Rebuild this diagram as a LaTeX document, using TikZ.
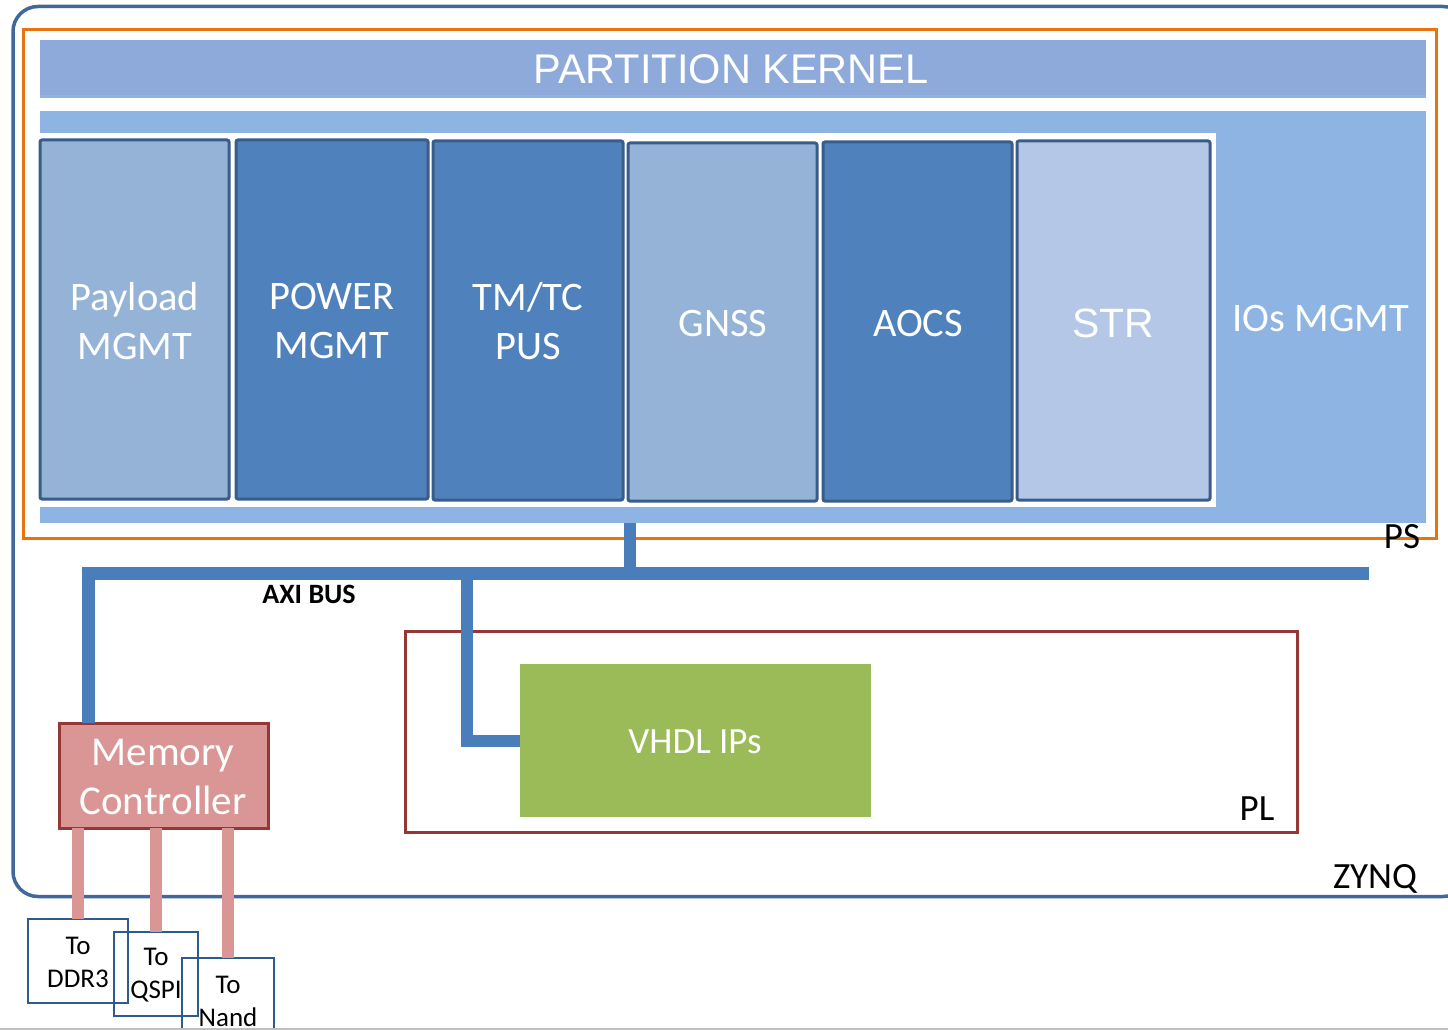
\documentclass[tikz,border=0pt]{standalone}
\usepackage{fontspec}
\setmainfont{Carlito}
\newfontfamily\arialf{Liberation Sans}
\definecolor{zynqc}{HTML}{41689A}
\definecolor{orangec}{HTML}{E8730F}
\definecolor{kernelc}{HTML}{8EAADB}
\definecolor{areac}{HTML}{8EB4E3}
\definecolor{boxborder}{HTML}{385D8A}
\definecolor{midblue}{HTML}{4F81BD}
\definecolor{lightblue}{HTML}{95B3D7}
\definecolor{paleblue}{HTML}{B4C7E7}
\definecolor{busc}{HTML}{4A7EBB}
\definecolor{mcfill}{HTML}{D99694}
\definecolor{mcborder}{HTML}{953735}
\definecolor{greenc}{HTML}{9BBB59}
\definecolor{navyc}{HTML}{2F5A8F}
\tikzset{
  flat/.style={inner sep=0pt, outer sep=0pt},
  modbox/.style={flat, draw=boxborder, line width=3pt, rounded corners=2pt},
  modtext/.style={flat, text=white, font=\fontsize{40.5}{49}\selectfont, align=center},
  tobox/.style={flat, draw=navyc, line width=1.4pt},
  totext/.style={flat, font=\fontsize{27}{33}\selectfont, align=center},
  lbl/.style={flat, font=\fontsize{37}{40}\selectfont},
  bus/.style={draw=busc, line width=13pt, line join=miter},
  pinkline/.style={draw=mcfill, line width=12pt},
}
\begin{document}
\begin{tikzpicture}[x=1pt,y=-1pt]
\useasboundingbox (0,0) rectangle (1448,1030);
\fill[white] (0,0) rectangle (1448,1030);
% ZYNQ outline
\node[flat, draw=zynqc, line width=3.5pt, rounded corners=25pt,
      minimum width=1455pt, minimum height=890pt] (zynq) at (740.5,451.5) {};
% PS outline
\node[flat, draw=orangec, line width=3pt, minimum width=1413pt, minimum height=508pt] (ps) at (729.5,284) {};
% Partition kernel
\node[flat, fill=kernelc, minimum width=1386pt, minimum height=56pt] (kernel) at (733,68) {};
\fill[areac] (40,95) rectangle (1426,98);
\node[flat, text=white, font=\arialf\fontsize{41.5}{45}\selectfont] (kerneltext) at (731,69) {PARTITION KERNEL};
% PS area
\node[flat, fill=areac, minimum width=1386pt, minimum height=412pt] (area) at (733,317) {};
\node[flat, fill=white, minimum width=1176pt, minimum height=374pt] (inner) at (628,320) {};
\node[modtext] (ios) at (1321,319) {IOs MGMT};
% modules
\node[modbox, fill=lightblue, minimum width=189pt, minimum height=359pt] (payload) at (134.5,319.5) {};
\node[modbox, fill=midblue, minimum width=192pt, minimum height=359pt] (power) at (332,319.5) {};
\node[modbox, fill=midblue, minimum width=190pt, minimum height=359pt] (tmtc) at (528,320.5) {};
\node[modbox, fill=lightblue, minimum width=189pt, minimum height=358pt] (gnss) at (722.5,322) {};
\node[modbox, fill=midblue, minimum width=189pt, minimum height=359pt] (aocs) at (917.5,321.5) {};
\node[modbox, fill=paleblue, minimum width=193pt, minimum height=359pt] (str) at (1113.5,320.5) {};
\node[modtext] (payloadt) at (135,321) {Payload\\MGMT};
\node[modtext] (powert) at (332,321) {POWER\\MGMT};
\node[modtext] (tmtct) at (528,321) {TM/TC\\PUS};
\node[modtext] (gnsst) at (723,323) {GNSS};
\node[modtext] (aocst) at (918,323) {AOCS};
\node[modtext, font=\arialf\fontsize{41}{49}\selectfont] (strt) at (1113,323) {STR};
% labels
\node[lbl] (pslbl) at (1402,537) {PS};
\node[lbl] (zynqlbl) at (1375,879) {ZYNQ};
% PL
\node[flat, draw=mcborder, line width=3pt, minimum width=892pt, minimum height=201pt] (pl) at (851,731.5) {};
\node[lbl] (pllbl) at (1257,809) {PL};
\node[flat, fill=greenc, minimum width=351pt, minimum height=153pt] (vhdl) at (695.5,740.5) {};
\node[flat, text=white, font=\fontsize{37}{40}\selectfont] (vhdlt) at (695,742) {VHDL IPs};
% Memory controller
\node[flat, fill=mcfill, draw=mcborder, line width=3pt, minimum width=209pt, minimum height=105pt] (mc) at (163.5,775.5) {};
\node[modtext, font=\fontsize{41}{49}\selectfont] (mct) at (163,777) {Memory\\Controller};
% AXI bus
\coordinate (busL) at (88,573);
\coordinate (busR) at (1369,573);
\coordinate (busU) at (629.5,573);
\coordinate (busB) at (467,573);
\draw[bus] (busL |- mc.north) -- (busL) -- (busR);
\draw[bus, line width=12pt] (busU) -- (busU |- area.south);
\draw[bus, line width=12pt] (busB) -- (busB |- vhdl.west) -- (vhdl.west);
\node[flat, font=\bfseries\fontsize{28}{30}\selectfont] (axi) at (309,594) {AXI BUS};
% To boxes
\node[tobox, minimum width=100pt, minimum height=84pt] (ddr3) at (78,961) {};
\node[tobox, minimum width=84pt, minimum height=84pt] (qspi) at (156,974) {};
\node[tobox, minimum width=92pt, minimum height=84pt] (nand) at (228,1000) {};
\node[totext] (ddr3t) at (78,962) {To\\DDR3};
\node[totext] (qspit) at (156,975) {To\\QSPI};
\node[totext] (nandt) at (228,1001) {To\\Nand};
\draw[pinkline] (mc.south -| ddr3.north) -- (ddr3.north);
\draw[pinkline] (mc.south -| qspi.north) -- (qspi.north);
\draw[pinkline] (mc.south -| nand.north) -- (nand.north);
% bottom edge line
\draw[draw=black!25, line width=1.5pt] (0,1029) -- (1448,1029);
\end{tikzpicture}
\end{document}
